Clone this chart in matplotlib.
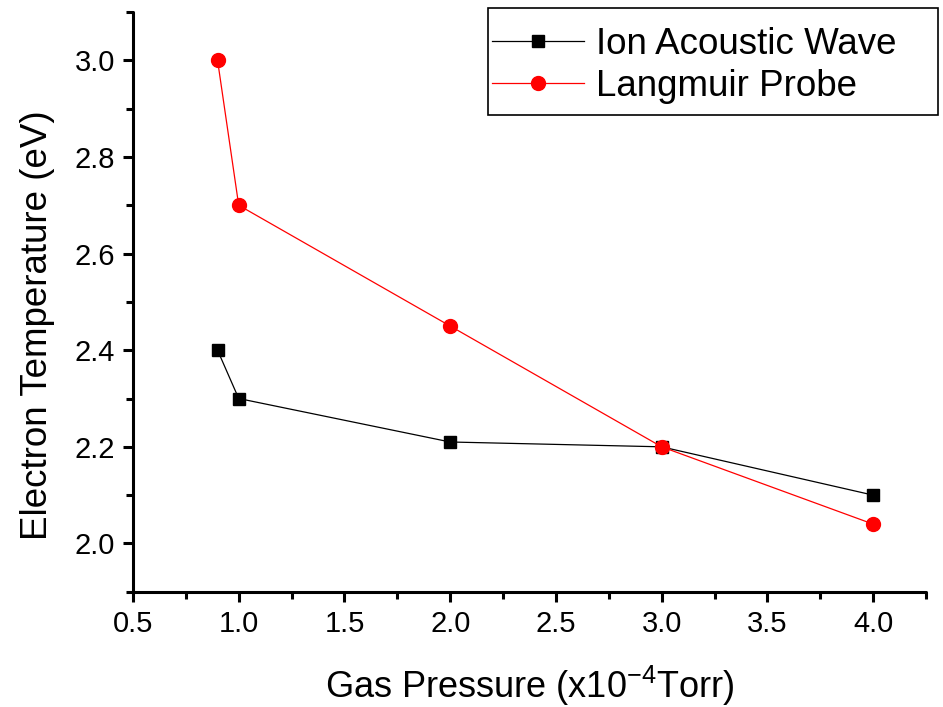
import matplotlib
matplotlib.use("Agg")
import matplotlib.pyplot as plt
from matplotlib.ticker import MultipleLocator, FormatStrFormatter
from matplotlib.patches import Rectangle

plt.rcParams['font.family'] = ['Liberation Sans', 'DejaVu Sans']
plt.rcParams['mathtext.fontset'] = 'custom'
plt.rcParams['mathtext.rm'] = 'Liberation Sans'
plt.rcParams['mathtext.it'] = 'Liberation Sans'

pressure = [0.9, 1.0, 2.0, 3.0, 4.0]
iaw_temp = [2.40, 2.30, 2.21, 2.20, 2.10]
lp_temp = [3.00, 2.70, 2.45, 2.20, 2.04]

W, H = 943, 707
fig = plt.figure(figsize=(9.43, 7.07), dpi=100)
ax = fig.add_axes([0.141, 0.163, 0.841, 0.820])

ax.plot(pressure, iaw_temp, color='black', lw=0.9, marker='s', ms=9,
        label='Ion Acoustic Wave')
ax.plot(pressure, lp_temp, color='red', lw=0.9, marker='o', ms=10,
        label='Langmuir Probe')

ax.set_xlim(0.5, 4.25)
ax.set_ylim(1.9, 3.1)
ax.xaxis.set_major_locator(MultipleLocator(0.5))
ax.xaxis.set_minor_locator(MultipleLocator(0.25))
ax.yaxis.set_major_locator(MultipleLocator(0.2))
ax.yaxis.set_minor_locator(MultipleLocator(0.1))
ax.xaxis.set_major_formatter(FormatStrFormatter('%.1f'))
ax.yaxis.set_major_formatter(FormatStrFormatter('%.1f'))

for s in ['top', 'right']:
    ax.spines[s].set_visible(False)
for s in ['left', 'bottom']:
    ax.spines[s].set_linewidth(2.2)
    ax.spines[s].set_capstyle('round')

ax.tick_params(which='major', direction='out', length=7, width=2.2, labelsize=21, pad=6)
ax.tick_params(which='minor', direction='out', length=5, width=2.2)

ax.set_xlabel('Gas Pressure (x10$^{\\mathrm{-4}}$Torr)', fontsize=26, labelpad=19)
ax.set_ylabel('Electron Temperature (eV)', fontsize=26.5)
ax.yaxis.set_label_coords(-0.098, 0.459)

leg = ax.legend(loc='upper left', fontsize=26.5, frameon=False,
                borderaxespad=0.0, borderpad=0.0,
                handlelength=2.5, handletextpad=0.33,
                labelspacing=0.18,
                bbox_to_anchor=(492 / W, 1 - 27 / H),
                bbox_transform=fig.transFigure)

fig.patches.append(Rectangle((488 / W, 1 - 115 / H), 450 / W, 107 / H,
                             transform=fig.transFigure, fill=False,
                             edgecolor='black', linewidth=1.2, zorder=5))

fig.savefig('out.png', dpi=100)
